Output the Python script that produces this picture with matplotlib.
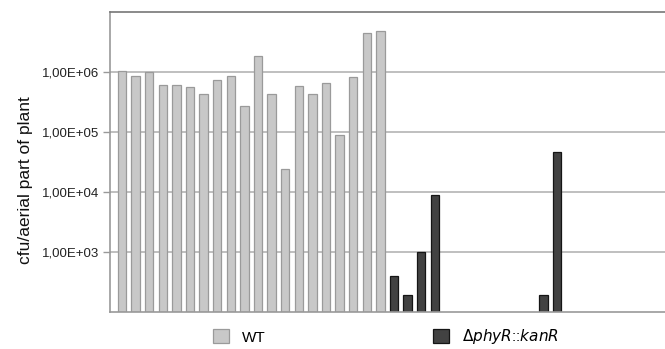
import numpy as np
import matplotlib
matplotlib.use("Agg")
import matplotlib.pyplot as plt
from matplotlib.patches import Patch

plt.rcParams['font.family'] = ['Liberation Sans', 'DejaVu Sans']

# cfu per aerial part of plant, one bar per plant
wt_values = [1.04e6, 8.7e5, 9.9e5, 6.0e5, 6.0e5, 5.6e5, 4.25e5, 7.35e5, 8.7e5, 2.75e5,
             1.83e6, 4.37e5, 2.38e4, 5.77e5, 4.25e5, 6.66e5, 9.0e4, 8.4e5, 4.43e6, 4.78e6]
# 0 = below detection limit (no bar)
mut_values = [392, 191, 985, 8.8e3, 0, 0, 0, 0, 0, 0,
              0, 191, 4.58e4, 0, 0, 0, 0, 0, 0, 0]
ytick_vals = [1e3, 1e4, 1e5, 1e6]
ytick_labels = ["1,00E+03", "1,00E+04", "1,00E+05", "1,00E+06"]

wt_x = np.arange(len(wt_values))
mut_x = np.arange(len(mut_values)) + len(wt_values)
mut_plot = [v if v > 0 else np.nan for v in mut_values]

fig = plt.figure(figsize=(6.65, 3.49), dpi=100)
ax = fig.add_axes([110 / 665, 1 - 312 / 349, 555 / 665, 300 / 349])

wt_face, wt_edge = '#c8c8c8', '#9a9a9a'
mut_face, mut_edge = '#424242', '#151515'

ax.set_yscale('log')
ax.set_ylim(1e2, 1e7)
ax.set_xlim(-0.88, 39.93)

for v in ytick_vals:
    ax.axhline(v, color='#b4b4b4', linewidth=1.2, zorder=0)

ax.bar(wt_x, wt_values, width=0.62, bottom=1e2, color=wt_face, edgecolor=wt_edge,
       linewidth=0.9, zorder=2)
ax.bar(mut_x, np.array(mut_plot) - 1e2, width=0.62, bottom=1e2, color=mut_face,
       edgecolor=mut_edge, linewidth=0.9, zorder=2)

ax.set_yticks(ytick_vals)
ax.set_yticklabels(ytick_labels, fontsize=9.5, color='#222222')
ax.yaxis.set_minor_locator(matplotlib.ticker.NullLocator())
ax.tick_params(axis='y', length=5, width=1, color='#999999', pad=3)
ax.set_xticks([])

ax.spines['right'].set_visible(False)
ax.spines['top'].set_color('#777777')
ax.spines['left'].set_color('#999999')
ax.spines['bottom'].set_color('#999999')
for s in ['top', 'left', 'bottom']:
    ax.spines[s].set_linewidth(1.2)

fig.text(0.038, 1 - 180 / 349, "cfu/aerial part of plant", rotation=90,
         ha='center', va='center', fontsize=12.5, color='#111111')

handles = [Patch(facecolor=wt_face, edgecolor=wt_edge, linewidth=0.9),
           Patch(facecolor=mut_face, edgecolor=mut_edge, linewidth=0.9)]
labels = ["WT", r"$\Delta\mathit{phyR}$::$\mathit{kanR}$"]
fig.legend(handles, labels, loc='center', bbox_to_anchor=(386 / 665, 1 - 337 / 349),
           ncol=2, frameon=False, fontsize=11, handlelength=1.05, handleheight=1.05,
           handletextpad=0.9, columnspacing=10.9, borderpad=0)

fig.savefig("out.png", dpi=100)
